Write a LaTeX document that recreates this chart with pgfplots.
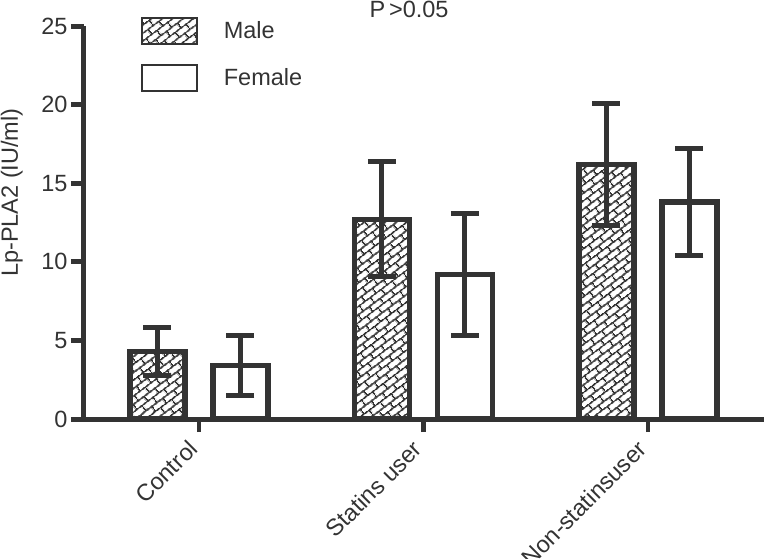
\documentclass[border=0pt]{standalone}
\usepackage{fontspec}
\setmainfont{Liberation Sans}
\usepackage{pgfplots}
\pgfplotsset{compat=1.18}
\usetikzlibrary{patterns.meta}
\definecolor{dk}{HTML}{333333}

\tikzdeclarepattern{
  name=diagbricks,
  type=uncolored,
  bounding box={(0pt,0pt) and (14pt,13pt)},
  tile size={(14pt,13pt)},
  tile transformation={rotate=37},
  code={
    \draw[line width=1.8pt] (-1pt,3.25pt) -- (15pt,3.25pt);
    \draw[line width=1.8pt] (-1pt,9.75pt) -- (15pt,9.75pt);
    \draw[line width=1.8pt] (3pt,3.25pt) -- (3pt,9.75pt);
    \draw[line width=1.8pt] (10pt,9.75pt) -- (10pt,13.5pt);
    \draw[line width=1.8pt] (10pt,-0.5pt) -- (10pt,3.25pt);
  }
}

\newcommand{\lab}{\fontsize{23.5}{28}\selectfont}

\begin{document}
\begin{tikzpicture}
\begin{axis}[
  at={(0pt,0pt)}, anchor=south west,
  scale only axis, width=680pt, height=393pt,
  xmin=-0.512, xmax=2.517, ymin=0, ymax=25,
  clip=false,
  axis lines*=left,
  axis line style={line width=5pt, dk},
  ytick={0,5,10,15,20,25},
  xtick={0,1,2},
  xticklabels={Control, Statins user, Non-statinsuser},
  xtick style={line width=4.5pt, dk},
  ytick style={line width=5pt, dk},
  major tick length=13pt,
  tick align=outside,
  tick label style={font=\lab, text=dk},
  /pgf/number format/assume math mode=true,
  x tick label style={xshift=-12pt, yshift=-2pt, rotate=45, anchor=north east},
  ylabel={Lp-PLA2 (IU/ml)},
  every axis y label/.style={at={(rel axis cs:-0.106,0.576)}, rotate=90, anchor=center, font=\lab, text=dk},
  error bars/y dir=both,
  error bars/y explicit,
  error bars/error bar style={line width=5pt, dk},
  error bars/error mark options={rotate=90, line width=5pt, dk, mark size=14pt},
  legend image code/.code={\draw[#1, line width=1.8pt] (0pt,-13pt) rectangle (55pt,13pt); \path (79pt,0pt);},
  legend style={at={(rel axis cs:0.0838,1.0229)}, anchor=north west, draw=none, fill=none,
    font=\lab, text=dk, row sep=19pt, inner sep=0pt, nodes={inner sep=0pt}},
  legend cell align=left,
]
\addplot[ybar, bar width=0.245, draw=dk, line width=5.5pt, pattern={diagbricks}, pattern color=dk]
  coordinates {(-0.185,4.3) +- (0,1.55) (0.815,12.7) +- (0,3.65) (1.815,16.2) +- (0,3.9)};
\addlegendentry{Male}
\addplot[ybar, bar width=0.245, draw=dk, line width=5.5pt, fill=white]
  coordinates {(0.185,3.4) +- (0,1.9) (1.185,9.2) +- (0,3.9) (2.185,13.8) +- (0,3.4)};
\addlegendentry{Female}
\node[anchor=base, font=\lab, text=dk] at (rel axis cs:0.478,1.0229) {P\,>0.05};
\end{axis}
\pgfresetboundingbox
\path[use as bounding box] (-84pt,-139pt) rectangle (680pt,419pt);
\end{tikzpicture}
\end{document}
